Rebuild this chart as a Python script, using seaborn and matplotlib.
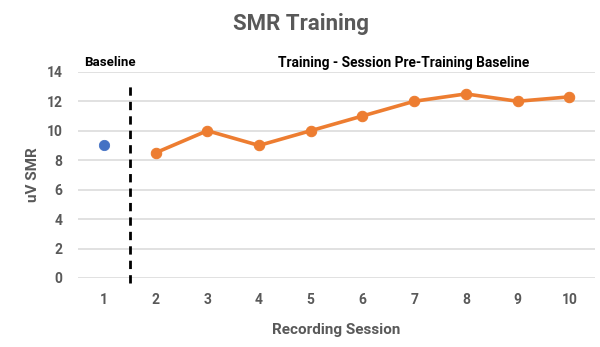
import matplotlib
matplotlib.use("Agg")
import matplotlib.pyplot as plt
import seaborn as sns
import pandas as pd

sns.set_theme(style="white")
plt.rcParams["font.family"] = ["Roboto", "DejaVu Sans"]

# Data
baseline_session = [1]
baseline_value = [9]
training_sessions = [2, 3, 4, 5, 6, 7, 8, 9, 10]
training_values = [8.5, 10, 9, 10, 11, 12, 12.5, 12, 12.3]
x_ticks = [1, 2, 3, 4, 5, 6, 7, 8, 9, 10]
y_ticks = [0, 2, 4, 6, 8, 10, 12, 14]

grey = "#595959"
orange = "#ED7D31"
blue = "#4472C4"

fig = plt.figure(figsize=(6.0, 3.47), dpi=100)
ax = fig.add_axes([0.13, 0.199, 0.862, 0.594])

for y in y_ticks:
    ax.axhline(y, color="#d9d9d9", lw=1.1, zorder=0)

train_df = pd.DataFrame({"session": training_sessions, "value": training_values})
base_df = pd.DataFrame({"session": baseline_session, "value": baseline_value})

sns.lineplot(data=train_df, x="session", y="value", ax=ax, color=orange,
             lw=2.6, marker="o", markersize=7.5, markeredgecolor=orange, zorder=3)
sns.scatterplot(data=base_df, x="session", y="value", ax=ax, color=blue,
                s=55, edgecolor=blue, zorder=3)

# Phase separator
ax.plot([1.5, 1.5], [-0.35, 13.3], ls=(0, (3, 2.2)), color="black", lw=2.0,
        clip_on=False, zorder=2)

ax.set_xlim(0.5, 10.5)
ax.set_ylim(0, 14)
ax.set_xticks(x_ticks)
ax.set_yticks(y_ticks)
ax.tick_params(axis="x", length=0, labelsize=10, labelcolor=grey, pad=11)
ax.tick_params(axis="y", length=0, labelsize=10, labelcolor=grey, pad=11)
for lab in ax.get_xticklabels() + ax.get_yticklabels():
    lab.set_fontweight("bold")
for s in ax.spines.values():
    s.set_visible(False)

ax.set_xlabel("Recording Session", fontsize=11, fontweight="bold", color=grey, labelpad=11)
ax.set_ylabel("uV SMR", fontsize=11, fontweight="bold", color=grey, labelpad=5)

fig.text(0.502, 0.93, "SMR Training", ha="center", va="center",
         fontsize=16, fontweight="bold", color=grey)
fig.text(0.14, 0.82, "Baseline", ha="left", va="center",
         fontsize=9.5, fontweight="bold", color="black")
fig.text(0.673, 0.818, "Training - Session Pre-Training Baseline", ha="center",
         va="center", fontsize=9.9, fontweight="bold", color="black")

fig.savefig("out.png", dpi=100)
